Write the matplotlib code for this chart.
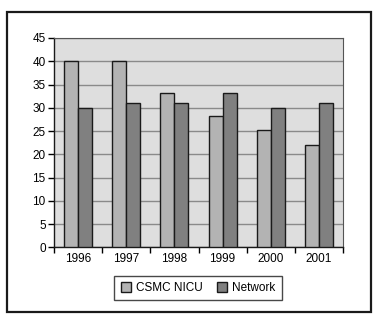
import matplotlib.pyplot as plt
import numpy as np
from matplotlib.patches import Rectangle

plt.rcParams['font.family'] = ['Liberation Sans', 'DejaVu Sans']

years = ['1996', '1997', '1998', '1999', '2000', '2001']
csmc_nicu = [40, 40, 33.2, 28.2, 25.2, 22.0]
network = [30, 31, 31, 33.2, 30, 31]

W, H = 378, 327
fig = plt.figure(figsize=(W / 100, H / 100), dpi=100)

# outer frame
fig.patches.append(Rectangle((7 / W, 1 - 312 / H), 364 / W, 300 / H,
                             transform=fig.transFigure, fill=False,
                             edgecolor='#1a1a1a', linewidth=1.6))

ax = fig.add_axes([54 / W, 1 - 247.3 / H, 289 / W, 209.3 / H])
ax.set_facecolor('#dedede')

x = np.arange(len(years))
bw = 0.29
ax.bar(x - bw / 2, csmc_nicu, bw, color='#b3b3b3', edgecolor='#1a1a1a',
       linewidth=1.0, label='CSMC NICU', zorder=3)
ax.bar(x + bw / 2, network, bw, color='#808080', edgecolor='#1a1a1a',
       linewidth=1.0, label='Network', zorder=3)

ax.set_xlim(-0.5, len(years) - 0.5)
ax.set_ylim(0, 45)
ax.set_yticks(np.arange(0, 46, 5))
ax.yaxis.grid(True, color='#8a8a8a', linewidth=1.0, zorder=1)

ax.set_xticks(x)
ax.set_xticklabels(years)
ax.set_xticks(np.arange(-0.5, len(years), 1), minor=True)
ax.tick_params(axis='x', which='major', length=0, labelsize=8.5, pad=4)
ax.tick_params(axis='x', which='minor', length=4, width=1.0, direction='out')
ax.tick_params(axis='y', length=4, width=1.0, labelsize=8.5, pad=2)

for s in ['top', 'right']:
    ax.spines[s].set_color('#555555')
    ax.spines[s].set_linewidth(0.8)
for s in ['left', 'bottom']:
    ax.spines[s].set_color('#1a1a1a')
    ax.spines[s].set_linewidth(1.0)

leg = ax.legend(loc='center', bbox_to_anchor=(198 / W, 1 - 288 / H),
                bbox_transform=fig.transFigure, ncol=2, fontsize=8.5,
                frameon=True, fancybox=False, edgecolor='#1a1a1a',
                handlelength=0.9, handleheight=0.9, handletextpad=0.4,
                columnspacing=1.2, borderpad=0.55, borderaxespad=0)
leg.get_frame().set_linewidth(1.0)

fig.savefig('out.png', dpi=100)
